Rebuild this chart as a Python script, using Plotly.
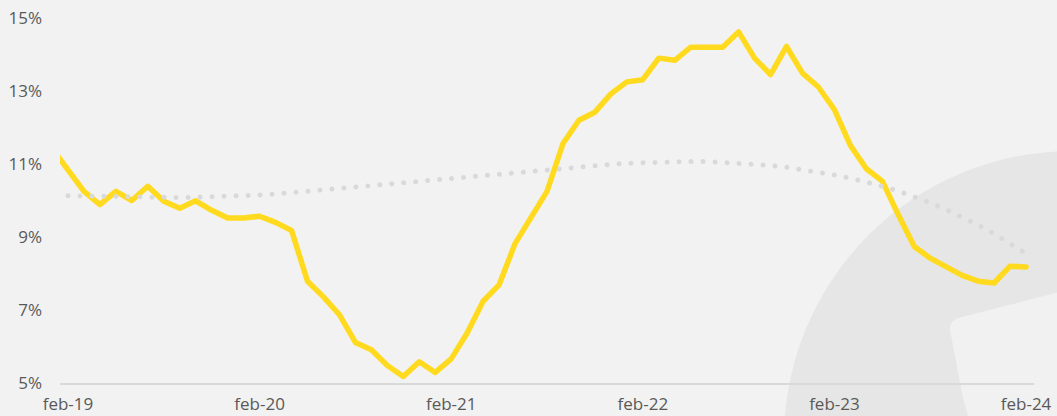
import plotly.graph_objects as go

# ---- data ----
months = ["jan-19", "feb-19", "mar-19", "apr-19", "may-19", "jun-19", "jul-19", "aug-19", "sep-19", "oct-19", "nov-19", "dec-19",
          "jan-20", "feb-20", "mar-20", "apr-20", "may-20", "jun-20", "jul-20", "aug-20", "sep-20", "oct-20", "nov-20", "dec-20",
          "jan-21", "feb-21", "mar-21", "apr-21", "may-21", "jun-21", "jul-21", "aug-21", "sep-21", "oct-21", "nov-21", "dec-21",
          "jan-22", "feb-22", "mar-22", "apr-22", "may-22", "jun-22", "jul-22", "aug-22", "sep-22", "oct-22", "nov-22", "dec-22",
          "jan-23", "feb-23", "mar-23", "apr-23", "may-23", "jun-23", "jul-23", "aug-23", "sep-23", "oct-23", "nov-23", "dec-23",
          "jan-24", "feb-24"]

rate = [11.43, 10.84, 10.25, 9.89, 10.25, 10.00, 10.39, 9.98, 9.79, 9.99, 9.73, 9.52,
        9.52, 9.57, 9.40, 9.18, 7.79, 7.36, 6.87, 6.11, 5.91, 5.48, 5.18, 5.58,
        5.29, 5.66, 6.37, 7.24, 7.69, 8.82, 9.57, 10.25, 11.56, 12.20, 12.42, 12.92,
        13.25, 13.31, 13.90, 13.84, 14.20, 14.20, 14.20, 14.62, 13.90, 13.45, 14.22, 13.49,
        13.11, 12.49, 11.51, 10.87, 10.53, 9.61, 8.74, 8.42, 8.20, 7.95, 7.79, 7.74,
        8.20, 8.18]

# trend (dotted) from feb-19 to feb-24
trend = [10.13, 10.12, 10.11, 10.10, 10.09, 10.09, 10.08, 10.08, 10.09, 10.10, 10.11,
         10.13, 10.15, 10.18, 10.21, 10.25, 10.29, 10.33, 10.37, 10.41, 10.45, 10.49,
         10.53, 10.57, 10.61, 10.65, 10.69, 10.73, 10.77, 10.81, 10.85, 10.89, 10.93,
         10.96, 10.99, 11.02, 11.04, 11.06, 11.07, 11.07, 11.07, 11.05, 11.03, 11.00,
         10.96, 10.91, 10.85, 10.78, 10.70, 10.61, 10.51, 10.39, 10.26, 10.11, 9.94,
         9.75, 9.55, 9.33, 9.09, 8.83, 8.55]

x_tick_labels = ["feb-19", "feb-20", "feb-21", "feb-22", "feb-23", "feb-24"]
y_ticks = [5, 7, 9, 11, 13, 15]
y_tick_labels = ["5%", "7%", "9%", "11%", "13%", "15%"]

# ---- figure ----
x_rate = [i - 1 for i in range(len(rate))]        # jan-19 = -1, feb-19 = 0
x_trend = [i for i in range(len(trend))]           # feb-19 = 0
x_tickvals = [12 * i for i in range(len(x_tick_labels))]

fig = go.Figure()
fig.add_trace(go.Scatter(x=x_rate, y=rate, mode="lines", text=months,
                         line=dict(color="#FFDA1F", width=5.5), hoverinfo="text+y"))
fig.add_trace(go.Scatter(x=x_trend, y=trend, mode="lines",
                         line=dict(color="#D9D9D9", width=5, dash="dot"), hoverinfo="skip"))

W, H = 1057, 416
L, R, T, B = 60, 23, 18, 33
pw, ph = W - L - R, H - T - B


def px(xp):
    return (xp - L) / pw


def py(yp):
    return (H - B - yp) / ph


# watermark: large grey disc + lighter rounded rectangle
cx, cy, rad = 1072, 439, 288
shapes = [
    dict(type="circle", xref="paper", yref="paper", layer="below",
         x0=px(cx - rad), x1=px(cx + rad), y0=py(cy + rad), y1=py(cy - rad),
         fillcolor="#E6E6E6", line=dict(width=0)),
]
path = "M {} {} Q {} {} {} {} L {} {} L {} {} L {} {} L {} {} Z".format(
    px(950), py(330), px(949), py(320), px(962), py(317),
    px(1075), py(288), px(1100), py(440), px(975), py(440), px(963), py(398))
shapes.append(dict(type="path", xref="paper", yref="paper", layer="below", path=path,
                   fillcolor="#F1F1F1", line=dict(width=0)))

fig.update_layout(
    width=W, height=H,
    margin=dict(l=L, r=R, t=T, b=B, autoexpand=False),
    paper_bgcolor="#F2F2F2", plot_bgcolor="rgba(0,0,0,0)",
    showlegend=False,
    shapes=shapes,
    font=dict(family="Open Sans, Noto Sans, sans-serif", size=17, color="#595959"),
)
fig.update_xaxes(range=[-0.5, 60.5], tickvals=x_tickvals, ticktext=x_tick_labels,
                 showgrid=False, zeroline=False, showline=True, linecolor="#D9D9D9",
                 linewidth=1.5, ticks="", ticklabelstandoff=5)
fig.update_yaxes(range=[5, 15], tickvals=y_ticks, ticktext=y_tick_labels, showgrid=False,
                 zeroline=False, showline=False, ticks="", ticklabelstandoff=17)

post = """
document.body.style.margin = '0';
document.body.style.background = '#F2F2F2';
var gd = document.getElementById('{plot_id}');
var lines = gd.querySelectorAll('.scatterlayer .trace path.js-line');
lines.forEach(function(p, i){
  p.style.strokeLinecap = 'round';
  p.style.strokeLinejoin = 'round';
  if (i === 1) { p.style.strokeDasharray = '0.01px,12px'; }
});
"""
fig.write_html("out.html", post_script=post, config={"displayModeBar": False})
